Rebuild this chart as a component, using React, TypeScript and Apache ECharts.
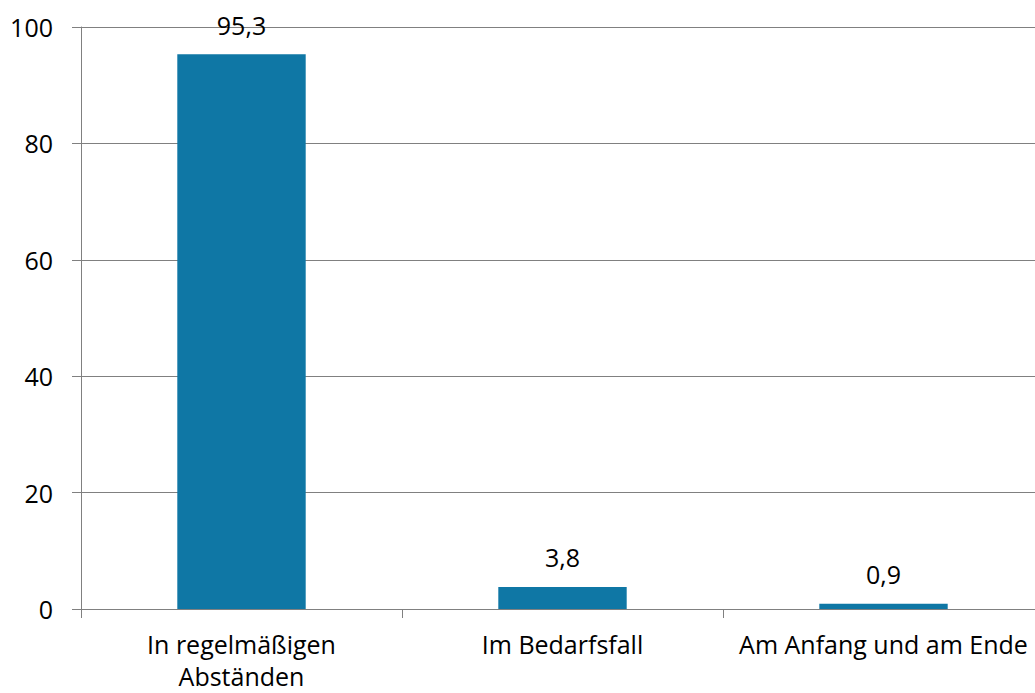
import React, { useEffect, useRef } from "react";
import * as echarts from "echarts";

const categories = ["In regelmäßigen\nAbständen", "Im Bedarfsfall", "Am Anfang und am Ende"];
const values = [95.3, 3.8, 0.9];
const yTicks = { min: 0, max: 100, interval: 20 };

export default function App() {
  const ref = useRef<HTMLDivElement>(null);
  useEffect(() => {
    if (!ref.current) return;
    const chart = echarts.init(ref.current, null, { renderer: "svg" });
    const font = "'Open Sans', sans-serif";
    chart.setOption({
      animation: false,
      backgroundColor: "#ffffff",
      grid: { left: 81, top: 27, width: 963, bottom: 84, containLabel: false },
      xAxis: {
        type: "category",
        data: categories,
        axisLine: { show: true, lineStyle: { color: "#808080", width: 1 } },
        axisTick: { show: true, length: 9, alignWithLabel: false, lineStyle: { color: "#808080" } },
        axisLabel: { color: "#000", fontFamily: font, fontSize: 25, lineHeight: 32, margin: 19, interval: 0 },
        splitLine: { show: false },
      },
      yAxis: {
        type: "value",
        min: yTicks.min,
        max: yTicks.max,
        interval: yTicks.interval,
        axisLine: { show: true, lineStyle: { color: "#808080", width: 1 } },
        axisTick: { show: true, length: 9, lineStyle: { color: "#808080" } },
        axisLabel: { color: "#000", fontFamily: font, fontSize: 25, margin: 28 },
        splitLine: { show: true, lineStyle: { color: "#808080", width: 1 } },
      },
      series: [
        {
          type: "bar",
          data: values,
          barWidth: "40%",
          itemStyle: { color: "#0F77A5" },
          label: {
            show: true,
            position: "top",
            distance: 17,
            color: "#000",
            fontFamily: font,
            fontSize: 25,
            formatter: (p: any) => String(p.value).replace(".", ","),
          },
        },
      ],
    });
    return () => chart.dispose();
  }, []);
  return (
    <div style={{ position: "fixed", left: 0, top: 0, width: 1035, height: 693, overflow: "hidden", background: "#fff" }}>
      <div ref={ref} style={{ width: 1060, height: 693 }} />
    </div>
  );
}
